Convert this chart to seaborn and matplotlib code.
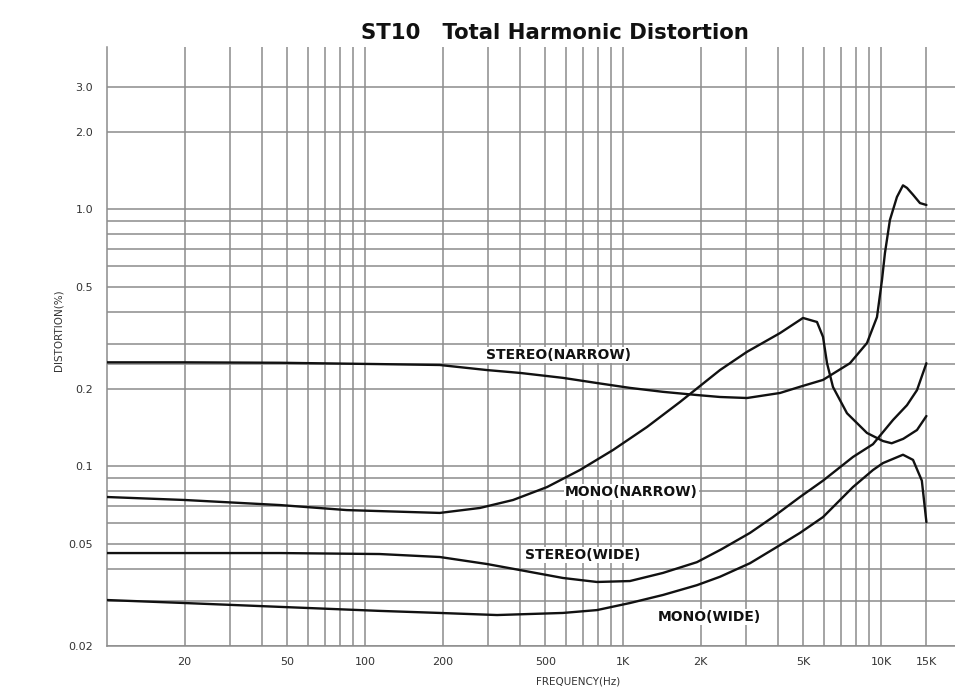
import numpy as np
import pandas as pd
import matplotlib
matplotlib.use("Agg")
import matplotlib.pyplot as plt
from matplotlib.ticker import FixedLocator, NullFormatter
import seaborn as sns

# values (frequency in Hz, THD in %)
stereo_narrow_f = [10, 20, 47, 114, 195, 297, 399, 585, 793, 1064, 1429, 1935, 2377, 3024, 4060,
                   4850, 5962, 7583, 8826, 9650, 10090, 10360, 10830, 11530, 12170, 12610, 13310,
                   14160, 15000]
stereo_narrow_v = [0.254, 0.254, 0.253, 0.25, 0.248, 0.237, 0.231, 0.221, 0.211, 0.202, 0.195, 0.1895,
                   0.1862, 0.1845, 0.193, 0.204, 0.217, 0.252, 0.302, 0.381, 0.531, 0.676, 0.909,
                   1.117, 1.24, 1.212, 1.14, 1.058, 1.04]

mono_narrow_f = [10, 20, 47, 85, 195, 279, 375, 508, 681, 915, 1239, 1663, 2377, 3024, 4060, 4986,
                 5649, 5962, 6177, 6516, 7383, 8826, 10180, 11000, 12200, 13790, 15000]
mono_narrow_v = [0.076, 0.074, 0.0707, 0.0676, 0.0659, 0.0689, 0.074, 0.0831, 0.0968, 0.1158, 0.1423,
                 0.178, 0.237, 0.279, 0.330, 0.378, 0.3646, 0.319, 0.2524, 0.2036, 0.161, 0.1349,
                 0.1255, 0.123, 0.128, 0.1385, 0.157]

stereo_wide_f = [10, 20, 47, 114, 195, 297, 399, 585, 793, 1064, 1429, 1935, 2400, 3107, 3814,
                 4853, 5962, 7789, 9311, 11130, 12610, 13790, 15000]
stereo_wide_v = [0.046, 0.046, 0.046, 0.0456, 0.0444, 0.0417, 0.0395, 0.0368, 0.0355, 0.0358, 0.0385,
                 0.0424, 0.0475, 0.0551, 0.0635, 0.076, 0.088, 0.1088, 0.122, 0.1515, 0.173, 0.198,
                 0.252]

mono_wide_f = [10, 20, 47, 114, 195, 325, 585, 793, 1064, 1429, 1935, 2377, 3107, 3954, 4853,
               5962, 7789, 9311, 10180, 12170, 13310, 14400, 15000]
mono_wide_v = [0.0302, 0.0294, 0.0284, 0.0274, 0.0269, 0.0264, 0.0269, 0.0276, 0.0294, 0.0316,
               0.0345, 0.0372, 0.0420, 0.0486, 0.0551, 0.0635, 0.0831, 0.0968, 0.103, 0.111, 0.106,
               0.088, 0.0607]

x_ticks = [20, 50, 100, 200, 500, 1000, 2000, 5000, 10000, 15000]
x_labels = ["20", "50", "100", "200", "500", "1K", "2K", "5K", "10K", "15K"]
y_ticks = [0.02, 0.05, 0.1, 0.2, 0.5, 1.0, 2.0, 3.0]
y_labels = ["0.02", "0.05", "0.1", "0.2", "0.5", "1.0", "2.0", "3.0"]

x_grid = [30, 40, 60, 70, 80, 90, 300, 400, 600, 700, 800, 900,
          3000, 4000, 6000, 7000, 8000, 9000]
y_grid = [0.03, 0.04, 0.06, 0.07, 0.08, 0.09, 0.25, 0.3, 0.4, 0.6, 0.7, 0.8, 0.9]

curve_names = ["STEREO(NARROW)", "MONO(NARROW)", "STEREO(WIDE)", "MONO(WIDE)"]

sns.set_style("white")
plt.rcParams["font.family"] = ["DejaVu Sans"]

fig = plt.figure(figsize=(9.55, 6.88), dpi=100)
ax = fig.add_axes([0.112, 0.061, 0.888, 0.8706])

curves = [(stereo_narrow_f, stereo_narrow_v), (mono_narrow_f, mono_narrow_v),
          (stereo_wide_f, stereo_wide_v), (mono_wide_f, mono_wide_v)]
for name, (f, v) in zip(curve_names, curves):
    d = pd.DataFrame({"freq": f, "thd": v})
    sns.lineplot(data=d, x="freq", y="thd", color="#111111", linewidth=1.7,
                 estimator=None, ax=ax, zorder=3)

ax.set_xscale("log")
ax.set_yscale("log")
ax.set_xlim(10, 19360)
ax.set_ylim(0.02, 4.28)

ax.xaxis.set_major_locator(FixedLocator(x_ticks))
ax.set_xticklabels(x_labels)
ax.xaxis.set_minor_locator(FixedLocator(x_grid))
ax.xaxis.set_minor_formatter(NullFormatter())
ax.yaxis.set_major_locator(FixedLocator(y_ticks))
ax.set_yticklabels(y_labels)
ax.yaxis.set_minor_locator(FixedLocator(y_grid))
ax.yaxis.set_minor_formatter(NullFormatter())

ax.grid(True, which="both", color="#8c8c8c", linewidth=1.1, zorder=1)
ax.set_axisbelow(True)
ax.tick_params(which="both", length=0, labelsize=8, colors="#333333")
ax.tick_params(axis="x", pad=8)
ax.tick_params(axis="y", pad=10)
for s in ["top", "right"]:
    ax.spines[s].set_visible(False)
for s in ["left", "bottom"]:
    ax.spines[s].set_color("#8c8c8c")
    ax.spines[s].set_linewidth(1.1)
ax.set_xlabel("")
ax.set_ylabel("")

label_pos = [(565, 0.271), (1075, 0.0795), (700, 0.0452), (2154, 0.0259)]
for name, (lx, ly) in zip(curve_names, label_pos):
    ax.text(lx, ly, name, fontsize=10, fontweight="bold", ha="center", va="center",
            color="#111111", zorder=4,
            bbox=dict(facecolor="white", edgecolor="none", pad=0.8))

fig.text(0.581, 1 - 33 / 688, "ST10   Total Harmonic Distortion", fontsize=15.3,
         fontweight="bold", ha="center", va="center", color="#111111")
fig.text(578 / 955, 1 - 681 / 688, "FREQUENCY(Hz)", fontsize=7.5, ha="center",
         va="center", color="#333333")
fig.text(58 / 955, 1 - 330 / 688, "DISTORTION(%)", fontsize=7.5, rotation=90,
         ha="center", va="center", color="#333333")

fig.savefig("out.png", dpi=100)
